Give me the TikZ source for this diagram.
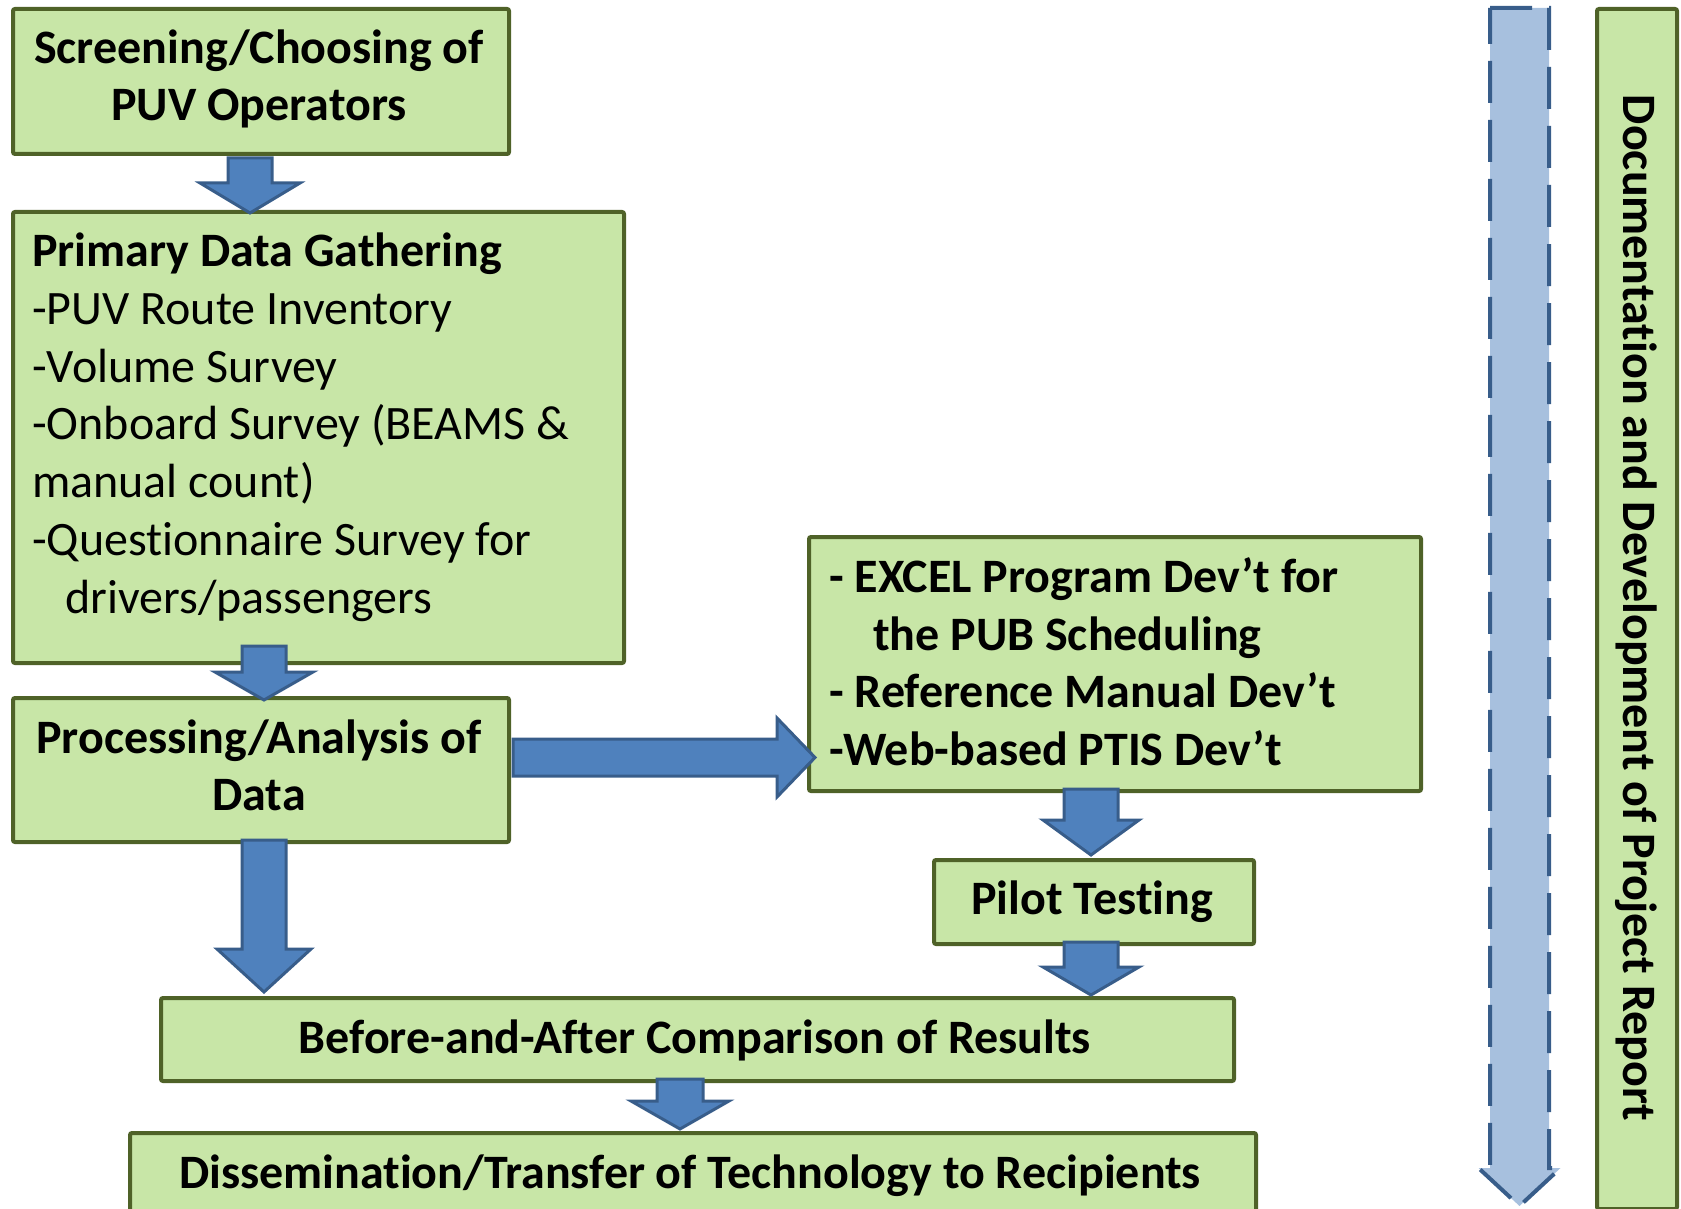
\documentclass[tikz,border=0pt]{standalone}
\usepackage{fontspec}
\setmainfont{Carlito}[Ligatures={NoCommon,NoContextual,NoRare},Contextuals=NoAlternate]
\definecolor{boxfill}{RGB}{200,230,167}
\definecolor{boxline}{RGB}{79,98,40}
\definecolor{arrfill}{RGB}{79,129,189}
\definecolor{arrline}{RGB}{56,93,138}
\definecolor{dashfill}{RGB}{167,192,222}
\newcommand{\bdown}[6]{(#1-#4,#2) -- (#1+#4,#2) -- (#1+#4,#3-#6) -- (#1+#5,#3-#6) -- (#1,#3) -- (#1-#5,#3-#6) -- (#1-#4,#3-#6) -- cycle}
\begin{document}
\begin{tikzpicture}[x=1pt,y=-1pt,
  box/.style={draw=boxline, fill=boxfill, line width=4pt, rounded corners=2pt, inner sep=0pt},
  barrow/.style={draw=arrline, fill=arrfill, line width=3pt, line join=miter},
  txt/.style={inner sep=0pt, font=\fontsize{48}{58}\selectfont},
  btxt/.style={txt, font=\fontsize{48}{58}\selectfont\bfseries}]
\useasboundingbox (0,0) rectangle (1681,1209);
% boxes
\node[box, anchor=north west, minimum width=496pt, minimum height=145pt] (screen) at (11,7) {};
\node[box, anchor=north west, minimum width=611pt, minimum height=451pt] (primary) at (11,210) {};
\node[box, anchor=north west, minimum width=496pt, minimum height=144pt] (proc) at (11,696) {};
\node[box, anchor=north west, minimum width=612pt, minimum height=254pt] (excel) at (807,535) {};
\node[box, anchor=north west, minimum width=320pt, minimum height=84pt] (pilot) at (932,858) {};
\node[box, anchor=north west, minimum width=1073pt, minimum height=83pt] (before) at (159,996) {};
\node[box, anchor=north west, minimum width=1126pt, minimum height=100pt] (diss) at (128,1131) {};
\node[box, anchor=north west, minimum width=80pt, minimum height=1200pt] (doc) at (1595,7) {};
% texts
\node[btxt, anchor=base] (t1a) at (259,64) {Screening/Choosing of};
\node[btxt, anchor=base] (t1b) at (259,121) {PUV Operators};
\node[btxt, anchor=base west] (t2a) at (32,266) {Primary Data Gathering};
\node[txt, anchor=base west] (t2b) at (32,324) {-PUV Route Inventory};
\node[txt, anchor=base west] (t2c) at (32,382) {-Volume Survey};
\node[txt, anchor=base west] (t2d) at (32,439) {-Onboard Survey (BEAMS \&};
\node[txt, anchor=base west] (t2e) at (32,497) {manual count)};
\node[txt, anchor=base west] (t2f) at (32,555) {-Questionnaire Survey for};
\node[txt, anchor=base west] (t2g) at (65,613) {drivers/passengers};
\node[btxt, anchor=base] (t3a) at (259,753) {Processing/Analysis of};
\node[btxt, anchor=base] (t3b) at (259,810) {Data};
\node[btxt, anchor=base west] (t4a) at (829,592) {- EXCEL Program Dev’t for};
\node[btxt, anchor=base west] (t4b) at (873,650) {the PUB Scheduling};
\node[btxt, anchor=base west] (t4c) at (829,707) {- Reference Manual Dev’t};
\node[btxt, anchor=base west] (t4d) at (829,765) {-Web-based PTIS Dev’t};
\node[btxt, anchor=base] (t5) at (1092,914) {Pilot Testing};
\node[btxt, anchor=base] (t6) at (695,1053) {Before-and-After Comparison of Results};
\node[btxt, anchor=base] (t7) at (690,1188) {Dissemination/Transfer of Technology to Recipients};
\node[btxt, rotate=-90] (t8) at (1636,608) {Documentation and Development of Project Report};
% block arrows
\draw[barrow] \bdown{250}{158}{213}{22}{50}{30};
\draw[barrow] \bdown{264}{646}{700}{22}{49}{28};
\draw[barrow] \bdown{264}{840}{992}{22}{47}{43};
\draw[barrow] \bdown{1091}{789}{855}{27}{48}{35};
\draw[barrow] \bdown{1091}{942}{995}{27}{48}{28};
\draw[barrow] \bdown{680}{1079}{1129}{23}{49}{28};
\draw[barrow] (513,739) -- (777,739) -- (777,718) -- (815,757.5) -- (777,797) -- (777,776) -- (513,776) -- cycle;
% dashed arrow
\fill[dashfill] \bdown{1519.5}{8}{1206}{29.5}{41}{38};
\draw[arrline, line width=4pt, dash pattern=on 42pt off 17pt] \bdown{1519.5}{8}{1206}{29.5}{41}{38};
\end{tikzpicture}
\end{document}
